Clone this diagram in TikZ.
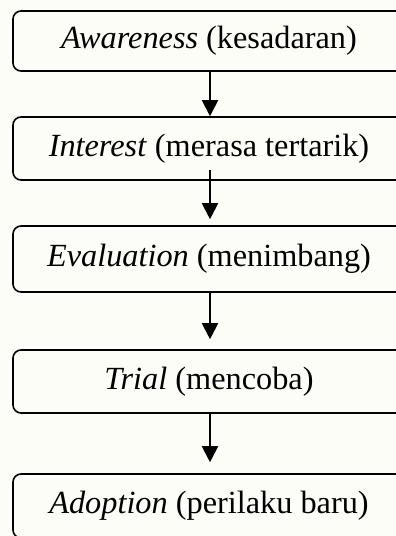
\documentclass[tikz,border=0pt]{standalone}
\usepackage{fontspec}
\setmainfont{Liberation Serif}
\usetikzlibrary{arrows.meta}
\definecolor{bgcol}{RGB}{253,253,248}
\tikzset{
  stage/.style={draw=black, line width=1.6pt, rounded corners=8pt, fill=none,
    minimum width=392pt, inner sep=0pt, align=center,
    font=\fontsize{32.3}{37}\selectfont},
  arr/.style={line width=2pt, -{Triangle[width=16pt,length=16pt]}}
}
\begin{document}
\begin{tikzpicture}[x=1pt,y=-1pt]
\useasboundingbox (0,0) rectangle (396,536);
\fill[bgcol] (0,0) rectangle (396,536);
\clip (0,0) rectangle (396,536);
\node[stage, minimum height=60pt] (b1) at (209,41) {\textit{Awareness} (kesadaran)};
\node[stage, minimum height=63pt] (b2) at (209,148.5) {\textit{Interest} (merasa tertarik)};
\node[stage, minimum height=66pt] (b3) at (209,259) {\textit{Evaluation} (menimbang)};
\node[stage, minimum height=63pt] (b4) at (209,381.5) {\textit{Trial} (mencoba)};
\node[stage, minimum height=64pt] (b5) at (209,506) {\textit{Adoption} (perilaku baru)};
\draw[arr] ([xshift=1pt]b1.south) -- ([xshift=1pt]b2.north);
\draw[arr] ([xshift=1pt,yshift=11pt]b2.south) -- ([xshift=1pt,yshift=6pt]b3.north);
\draw[arr] ([xshift=1pt]b3.south) -- ([xshift=1pt,yshift=10pt]b4.north);
\draw[arr] ([xshift=1pt]b4.south) -- ([xshift=1pt,yshift=11pt]b5.north);
\end{tikzpicture}
\end{document}
